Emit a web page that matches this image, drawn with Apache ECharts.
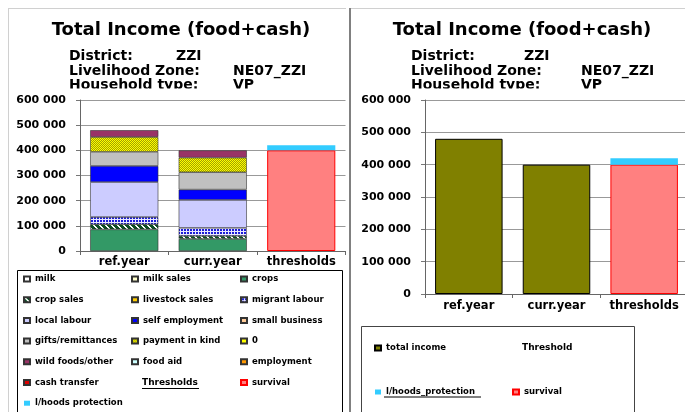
<!DOCTYPE html>
<html>
<head>
<meta charset="utf-8">
<script src="https://cdn.jsdelivr.net/npm/echarts@6/dist/echarts.min.js"></script>
<style>
  html, body { margin: 0; padding: 0; background: #fff; }
  #main { width: 685px; height: 412px; }
</style>
</head>
<body>
<div id="main"></div>
<script>
var categories = ['ref.year', 'curr.year', 'thresholds'];

// income sources, values for [ref.year, curr.year]
var milk = [0, 0];
var milkSales = [0, 0];
var crops = [86000, 48000];
var cropSales = [20000, 12000];
var livestockSales = [0, 0];
var migrantLabour = [29000, 32000];
var localLabour = [139000, 111000];
var selfEmployment = [64000, 41000];
var smallBusiness = [0, 0];
var giftsRemittances = [56000, 69000];
var paymentInKind = [59000, 58000];
var zeroSource = [0, 0];
var wildFoods = [27000, 29000];
var foodAid = [0, 0];
var employment = [0, 0];
var cashTransfer = [0, 0];

// thresholds column
var survival = [400000];
var livelihoodsProtection = [20000];

// right chart
var totalIncome = [480000, 400000];

var yMin = 0, yMax = 600000, yStep = 100000;

var FONT = '"DejaVu Sans", Arial, sans-serif';

function pattern(w, h, pick) {
  var c = document.createElement('canvas');
  c.width = w; c.height = h;
  var ctx = c.getContext('2d');
  for (var x = 0; x < w; x++) {
    for (var y = 0; y < h; y++) {
      ctx.fillStyle = pick(x, y);
      ctx.fillRect(x, y, 1, 1);
    }
  }
  return { image: c, repeat: 'repeat' };
}

var cropSalesFill = pattern(6, 6, function (x, y) {
  return ((x - y + 6) % 6) < 2 ? '#ffffff' : '#0b4d22';
});
var migrantFill = pattern(3, 3, function (x, y) {
  return (x === 0 || y === 0) ? '#e8e8ff' : '#1c1cd8';
});
var paymentFill = pattern(2, 2, function (x, y) {
  return (x + y) % 2 === 0 ? '#ffff00' : '#a0a000';
});

function fmt(v) {
  return String(v).replace(/\B(?=(\d{3})+(?!\d))/g, ' ');
}

function incomeSeries(name, vals, color) {
  return {
    name: name,
    type: 'bar',
    stack: 'income',
    xAxisIndex: 0,
    yAxisIndex: 0,
    barWidth: '77%',
    barGap: '-100%',
    data: vals.map(function (v) { return v || null; }).concat([null]),
    itemStyle: { color: color, borderColor: '#333', borderWidth: 0.6 },
    emphasis: { disabled: true }
  };
}

var series = [
  incomeSeries('milk', milk, '#ffffff'),
  incomeSeries('milk sales', milkSales, '#ffffcc'),
  incomeSeries('crops', crops, '#339966'),
  incomeSeries('crop sales', cropSales, cropSalesFill),
  incomeSeries('livestock sales', livestockSales, '#ffcc00'),
  incomeSeries('migrant labour', migrantLabour, migrantFill),
  incomeSeries('local labour', localLabour, '#ccccff'),
  incomeSeries('self employment', selfEmployment, '#0000ff'),
  incomeSeries('small business', smallBusiness, '#ffcc99'),
  incomeSeries('gifts/remittances', giftsRemittances, '#c0c0c0'),
  incomeSeries('payment in kind', paymentInKind, paymentFill),
  incomeSeries('0', zeroSource, '#ffff00'),
  incomeSeries('wild foods/other', wildFoods, '#993366'),
  incomeSeries('food aid', foodAid, '#ccffff'),
  incomeSeries('employment', employment, '#ff9900'),
  incomeSeries('cash transfer', cashTransfer, '#dd0000'),
  {
    name: 'survival', type: 'bar', stack: 'thr', xAxisIndex: 0, yAxisIndex: 0,
    barWidth: '77%', barGap: '-100%',
    data: [null, null].concat(survival),
    itemStyle: { color: '#ff8080', borderColor: '#ff0000', borderWidth: 1 },
    emphasis: { disabled: true }
  },
  {
    name: 'l/hoods protection', type: 'bar', stack: 'thr', xAxisIndex: 0, yAxisIndex: 0,
    barWidth: '77%', barGap: '-100%',
    data: [null, null].concat(livelihoodsProtection),
    itemStyle: { color: '#33ccff', borderWidth: 0 },
    emphasis: { disabled: true }
  },
  // right chart
  {
    name: 'total income', type: 'bar', stack: 'tot', xAxisIndex: 1, yAxisIndex: 1,
    barWidth: '77%', barGap: '-100%',
    data: totalIncome.concat([null]),
    itemStyle: { color: '#808000', borderColor: '#000', borderWidth: 1 },
    emphasis: { disabled: true }
  },
  {
    name: 'survival', type: 'bar', stack: 'thr2', xAxisIndex: 1, yAxisIndex: 1,
    barWidth: '77%', barGap: '-100%',
    data: [null, null].concat(survival),
    itemStyle: { color: '#ff8080', borderColor: '#ff0000', borderWidth: 1 },
    emphasis: { disabled: true }
  },
  {
    name: 'l/hoods_protection', type: 'bar', stack: 'thr2', xAxisIndex: 1, yAxisIndex: 1,
    barWidth: '77%', barGap: '-100%',
    data: [null, null].concat(livelihoodsProtection),
    itemStyle: { color: '#33ccff', borderWidth: 0 },
    emphasis: { disabled: true }
  }
];

var legendText = { fontFamily: FONT, fontWeight: 'bold', fontSize: 8.5, color: '#000', lineHeight: 10 };

function legendCol(left, top, gap, names) {
  return {
    orient: 'vertical', left: left, top: top, padding: 0,
    itemWidth: 6, itemHeight: 5, itemGap: gap, icon: 'rect',
    selectedMode: false, textStyle: legendText, data: names
  };
}

function xAxisOf(idx, margin) {
  return {
    type: 'category', gridIndex: idx, data: categories,
    axisLine: { show: true, lineStyle: { color: '#666', width: 1 } },
    axisTick: { show: true, length: 4, lineStyle: { color: '#666' } },
    axisLabel: { interval: 0, hideOverlap: false, margin: margin, fontFamily: FONT, fontWeight: 'bold', fontSize: 11.5, color: '#000' },
    splitLine: { show: false }
  };
}

function yAxisOf(idx) {
  return {
    type: 'value', gridIndex: idx, min: yMin, max: yMax, interval: yStep,
    axisLine: { show: true, lineStyle: { color: '#666', width: 1 } },
    axisTick: { show: true, length: 4, lineStyle: { color: '#777' } },
    axisLabel: { margin: 14, fontFamily: FONT, fontWeight: 'bold', fontSize: 11, color: '#000', formatter: fmt },
    splitLine: { show: true, lineStyle: { color: '#999', width: 1 } }
  };
}

function txt(x, y, text, size, align) {
  return {
    type: 'text', x: x, y: y, z: 10,
    style: { text: text, font: 'bold ' + size + 'px ' + FONT, fill: '#000', align: align || 'left', verticalAlign: 'middle' }
  };
}

function hline(x1, x2, y, color, w) {
  return { type: 'line', z: 10, shape: { x1: x1, y1: y, x2: x2, y2: y }, style: { stroke: color, lineWidth: w || 1 } };
}

var option = {
  animation: false,
  backgroundColor: '#fff',
  grid: [
    { left: 80, right: 339.5, top: 100, bottom: 161, outerBoundsMode: 'none' },
    { left: 425, right: -3, top: 100, bottom: 118, outerBoundsMode: 'none' }
  ],
  xAxis: [xAxisOf(0, 5), xAxisOf(1, 6)],
  yAxis: [yAxisOf(0), yAxisOf(1)],
  legend: [
    legendCol(23, 274, 10.7, ['milk', 'crop sales', 'local labour', 'gifts/remittances', 'wild foods/other', 'cash transfer', 'l/hoods protection']),
    legendCol(131, 274, 10.7, ['milk sales', 'livestock sales', 'self employment', 'payment in kind', 'food aid']),
    legendCol(240, 274, 10.7, ['crops', 'migrant labour', 'small business', '0', 'employment', 'survival']),
    legendCol(374, 343, 34, ['total income', 'l/hoods_protection']),
    legendCol(512, 387, 10, ['survival'])
  ],
  graphic: [
    // panel frames
    { type: 'line', shape: { x1: 8.5, y1: 8.5, x2: 8.5, y2: 412 }, style: { stroke: '#d0d0d0', lineWidth: 1 } },
    hline(8, 346, 8.5, '#d0d0d0'),
    hline(350, 685, 8.5, '#d0d0d0'),
    { type: 'rect', z: 10, shape: { x: 349, y: 8, width: 2, height: 404 }, style: { fill: '#808080' } },
    // legend boxes
    { type: 'rect', shape: { x: 17.5, y: 270.5, width: 325, height: 150 }, style: { fill: 'none', stroke: '#000', lineWidth: 1 } },
    { type: 'rect', shape: { x: 361.5, y: 326.5, width: 273, height: 100 }, style: { fill: 'none', stroke: '#444', lineWidth: 1 } },
    // titles
    txt(181, 30, 'Total Income (food+cash)', 18, 'center'),
    txt(522, 30, 'Total Income (food+cash)', 18, 'center'),
    txt(69, 56, 'District:', 14), txt(176, 56, 'ZZI', 14),
    txt(69, 71, 'Livelihood Zone:', 14), txt(233, 71, 'NE07_ZZI', 14),
    txt(69, 85.5, 'Household type:', 14), txt(233, 85.5, 'VP', 14),
    txt(411, 56, 'District:', 14), txt(524, 56, 'ZZI', 14),
    txt(411, 71, 'Livelihood Zone:', 14), txt(581, 71, 'NE07_ZZI', 14),
    txt(411, 85.5, 'Household type:', 14), txt(581, 85.5, 'VP', 14),
    // header area bottom edge hides descenders
    { type: 'rect', z: 11, shape: { x: 60, y: 88.5, width: 285, height: 6 }, style: { fill: '#fff' } },
    { type: 'rect', z: 11, shape: { x: 400, y: 88.5, width: 285, height: 6 }, style: { fill: '#fff' } },
    // legend labels without a series
    txt(142, 383, 'Thresholds', 9),
    hline(142, 199, 388.5, '#000'),
    txt(522, 348, 'Threshold', 9),
    hline(384, 481, 397, '#000')
  ],
  series: series
};

var chart = echarts.init(document.getElementById('main'));
chart.setOption(option);
</script>
</body>
</html>
